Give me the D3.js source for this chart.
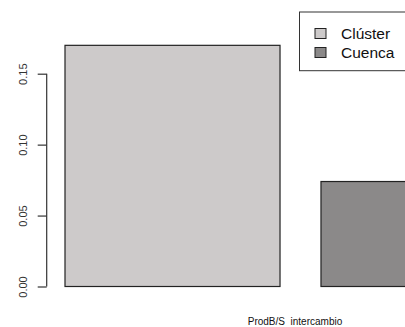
<!DOCTYPE html>
<html>
<head>
<meta charset="utf-8">
<script src="https://cdn.jsdelivr.net/npm/d3@7"></script>
<style>
  html, body { margin: 0; padding: 0; background: #fff; }
  svg { display: block; font-family: "Liberation Sans", Arial, sans-serif; }
</style>
</head>
<body>
<svg id="chart" width="405" height="327"></svg>
<script>
// Grouped bar chart data
const categories = ["ProdB/S  intercambio"];
const seriesNames = ["Clúster", "Cuenca"];
const seriesValues = [[0.17], [0.074]];   // one array per series, one value per category
const yTicks = [0, 0.05, 0.10, 0.15];
const yTickLabels = ["0.00", "0.05", "0.10", "0.15"];
const seriesColors = ["#cdcaca", "#8b8989"];

const svg = d3.select("#chart");

// Vertical scale
const y = d3.scaleLinear().domain([0, 0.15]).range([286.5, 73.7]);

// Category band (group) and series band inside each group
const xGroup = d3.scaleBand().domain(categories).range([65, 525]).padding(0);
const xSeries = d3.scaleBand().domain(seriesNames).range([0, 471]).paddingInner(0.16).paddingOuter(0);

// Bars
const g = svg.append("g");
categories.forEach((cat, ci) => {
  seriesNames.forEach((s, si) => {
    const v = seriesValues[si][ci];
    g.append("rect")
      .attr("x", xGroup(cat) + xSeries(s))
      .attr("y", y(v))
      .attr("width", xSeries.bandwidth())
      .attr("height", y(0) - y(v))
      .attr("fill", seriesColors[si])
      .attr("stroke", "#222")
      .attr("stroke-width", 1.2);
  });
});

// Left axis, rotated labels
const yAxis = d3.axisLeft(y)
  .tickValues(yTicks)
  .tickFormat((d, i) => yTickLabels[i])
  .tickSize(9)
  .tickSizeOuter(0);
const ya = svg.append("g").attr("transform", "translate(46.7,0)").call(yAxis);
ya.select(".domain").remove();
ya.append("line")
  .attr("x1", 0).attr("x2", 0)
  .attr("y1", y(yTicks[0])).attr("y2", y(yTicks[yTicks.length - 1]))
  .attr("stroke", "#333").attr("stroke-width", 1.2);
ya.selectAll(".tick line").attr("stroke", "#333").attr("stroke-width", 1.2);
ya.selectAll(".tick text")
  .attr("font-size", 11)
  .attr("fill", "#333")
  .attr("font-family", "Liberation Sans, Arial, sans-serif")
  .attr("text-anchor", "middle")
  .attr("dy", 0)
  .attr("x", 0)
  .attr("transform", "translate(-22.5,0) rotate(-90)")
  .attr("y", 0)
  .attr("dominant-baseline", "middle");

// Category label under the group
const xAxis = d3.axisBottom(xGroup).tickSize(0);
const xa = svg.append("g").attr("transform", "translate(0,315)").call(xAxis);
xa.select(".domain").remove();
xa.selectAll(".tick text")
  .attr("font-size", 10)
  .attr("fill", "#111")
  .attr("font-family", "Liberation Sans, Arial, sans-serif")
  .attr("dy", "0.71em")
  .attr("y", 3)
  .style("white-space", "pre");

// Legend
const lg = svg.append("g");
lg.append("rect")
  .attr("x", 299.5).attr("y", 12).attr("width", 106).attr("height", 58.7)
  .attr("fill", "#fff").attr("stroke", "#333").attr("stroke-width", 1);
seriesNames.forEach((s, i) => {
  const cy = 33.5 + i * 19;
  lg.append("rect")
    .attr("x", 315).attr("y", cy - 5).attr("width", 11).attr("height", 10)
    .attr("fill", seriesColors[i]).attr("stroke", "#222").attr("stroke-width", 1);
  lg.append("text")
    .attr("x", 341).attr("y", cy)
    .attr("dy", "0.36em")
    .attr("font-size", 15.5)
    .attr("fill", "#111")
    .text(s);
});
</script>
</body>
</html>
